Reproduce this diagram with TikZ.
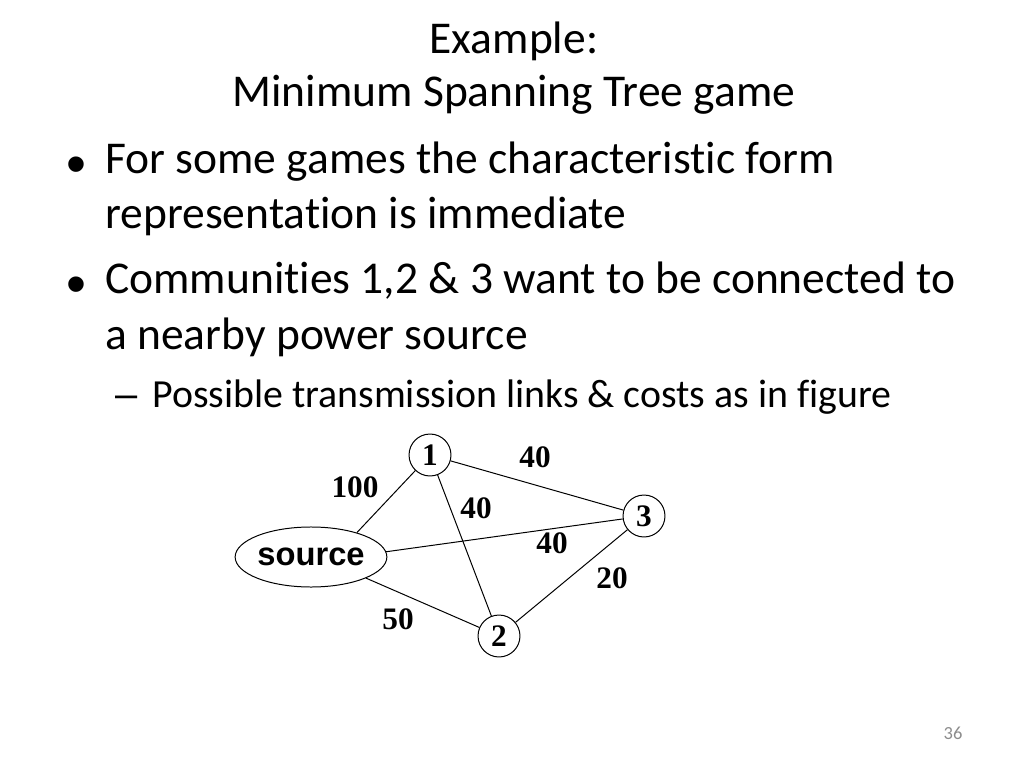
\documentclass[tikz,border=0pt]{standalone}
\usepackage{fontspec}
\setmainfont{Carlito}[Ligatures=NoCommon]
\newfontfamily\timesfont{Liberation Serif}
\newfontfamily\arialfont{Liberation Sans}
\usetikzlibrary{positioning, shapes.geometric}

\begin{document}
\begin{tikzpicture}[x=0.703125pt, y=-0.703125pt,
    titletext/.style={anchor=base, font=\fontsize{32}{38}\selectfont},
    bullettext/.style={anchor=base west, inner sep=0pt, font=\fontsize{32}{38}\selectfont},
    subtext/.style={anchor=base west, inner sep=0pt, font=\fontsize{28}{34}\selectfont},
    dot/.style={anchor=center, inner sep=0pt, font=\arialfont\fontsize{40}{40}\selectfont},
    vertex/.style={draw, circle, minimum size=29.5pt, inner sep=0pt, line width=0.7pt,
      font=\timesfont\bfseries\fontsize{22}{22}\selectfont},
    sourcenode/.style={draw, ellipse, minimum width=90.7pt, minimum height=42.2pt, inner sep=0pt,
      line width=0.7pt, font=\arialfont\bfseries\fontsize{23}{23}\selectfont},
    link/.style={line width=0.7pt},
    weight/.style={font=\timesfont\bfseries\fontsize{22}{22}\selectfont}]
      \useasboundingbox (0,0) rectangle (1024,768);

      % タイトル
      \node[titletext] (t1) at (514,54) {Example:};
      \node[titletext] (t2) at (514,107) {Minimum Spanning Tree game};

      % 箇条書き
      \node[dot] (b1dot) at (76,170) {•};
      \node[bullettext] (b1a) at (105,174) {For some games the characteristic form};
      \node[bullettext] (b1b) at (105,229) {representation is immediate};
      \node[dot] (b2dot) at (76,290) {•};
      \node[bullettext] (b2a) at (105,294) {Communities 1,2 \& 3 want to be connected to};
      \node[bullettext] (b2b) at (105,349) {a nearby power source};
      \node[subtext, font=\arialfont\fontsize{28}{34}\selectfont] (s1dash) at (115,407) {–};
      \node[subtext] (s1) at (152,407) {Possible transmission links \& costs as in figure};

      % ノード
      \node[sourcenode] (src) at (311,557) {source};
      \node[vertex] (n1) at (430,455) {1};
      \node[vertex] (n2) at (499,636) {2};
      \node[vertex] (n3) at (644,516) {3};

      % 辺
      \draw[link] (src.28) -- (n1);
      \draw[link] (src.4) -- (n3);
      \draw[link] (src.-21) -- (n2);
      \draw[link] (n1) -- (n2);
      \draw[link] (n1) -- (n3);
      \draw[link] (n2) -- (n3);

      % 重み
      \node[weight] (w1) at (355,487) {100};
      \node[weight] (w2) at (535,457) {40};
      \node[weight] (w3) at (476,508) {40};
      \node[weight] (w4) at (552,543) {40};
      \node[weight] (w5) at (612,578) {20};
      \node[weight] (w6) at (398,619) {50};

      % ページ番号
      \node[text=gray!90, font=\fontsize{13}{13}\selectfont] (pg) at (953,733) {36};
  \end{tikzpicture}
\end{document}
